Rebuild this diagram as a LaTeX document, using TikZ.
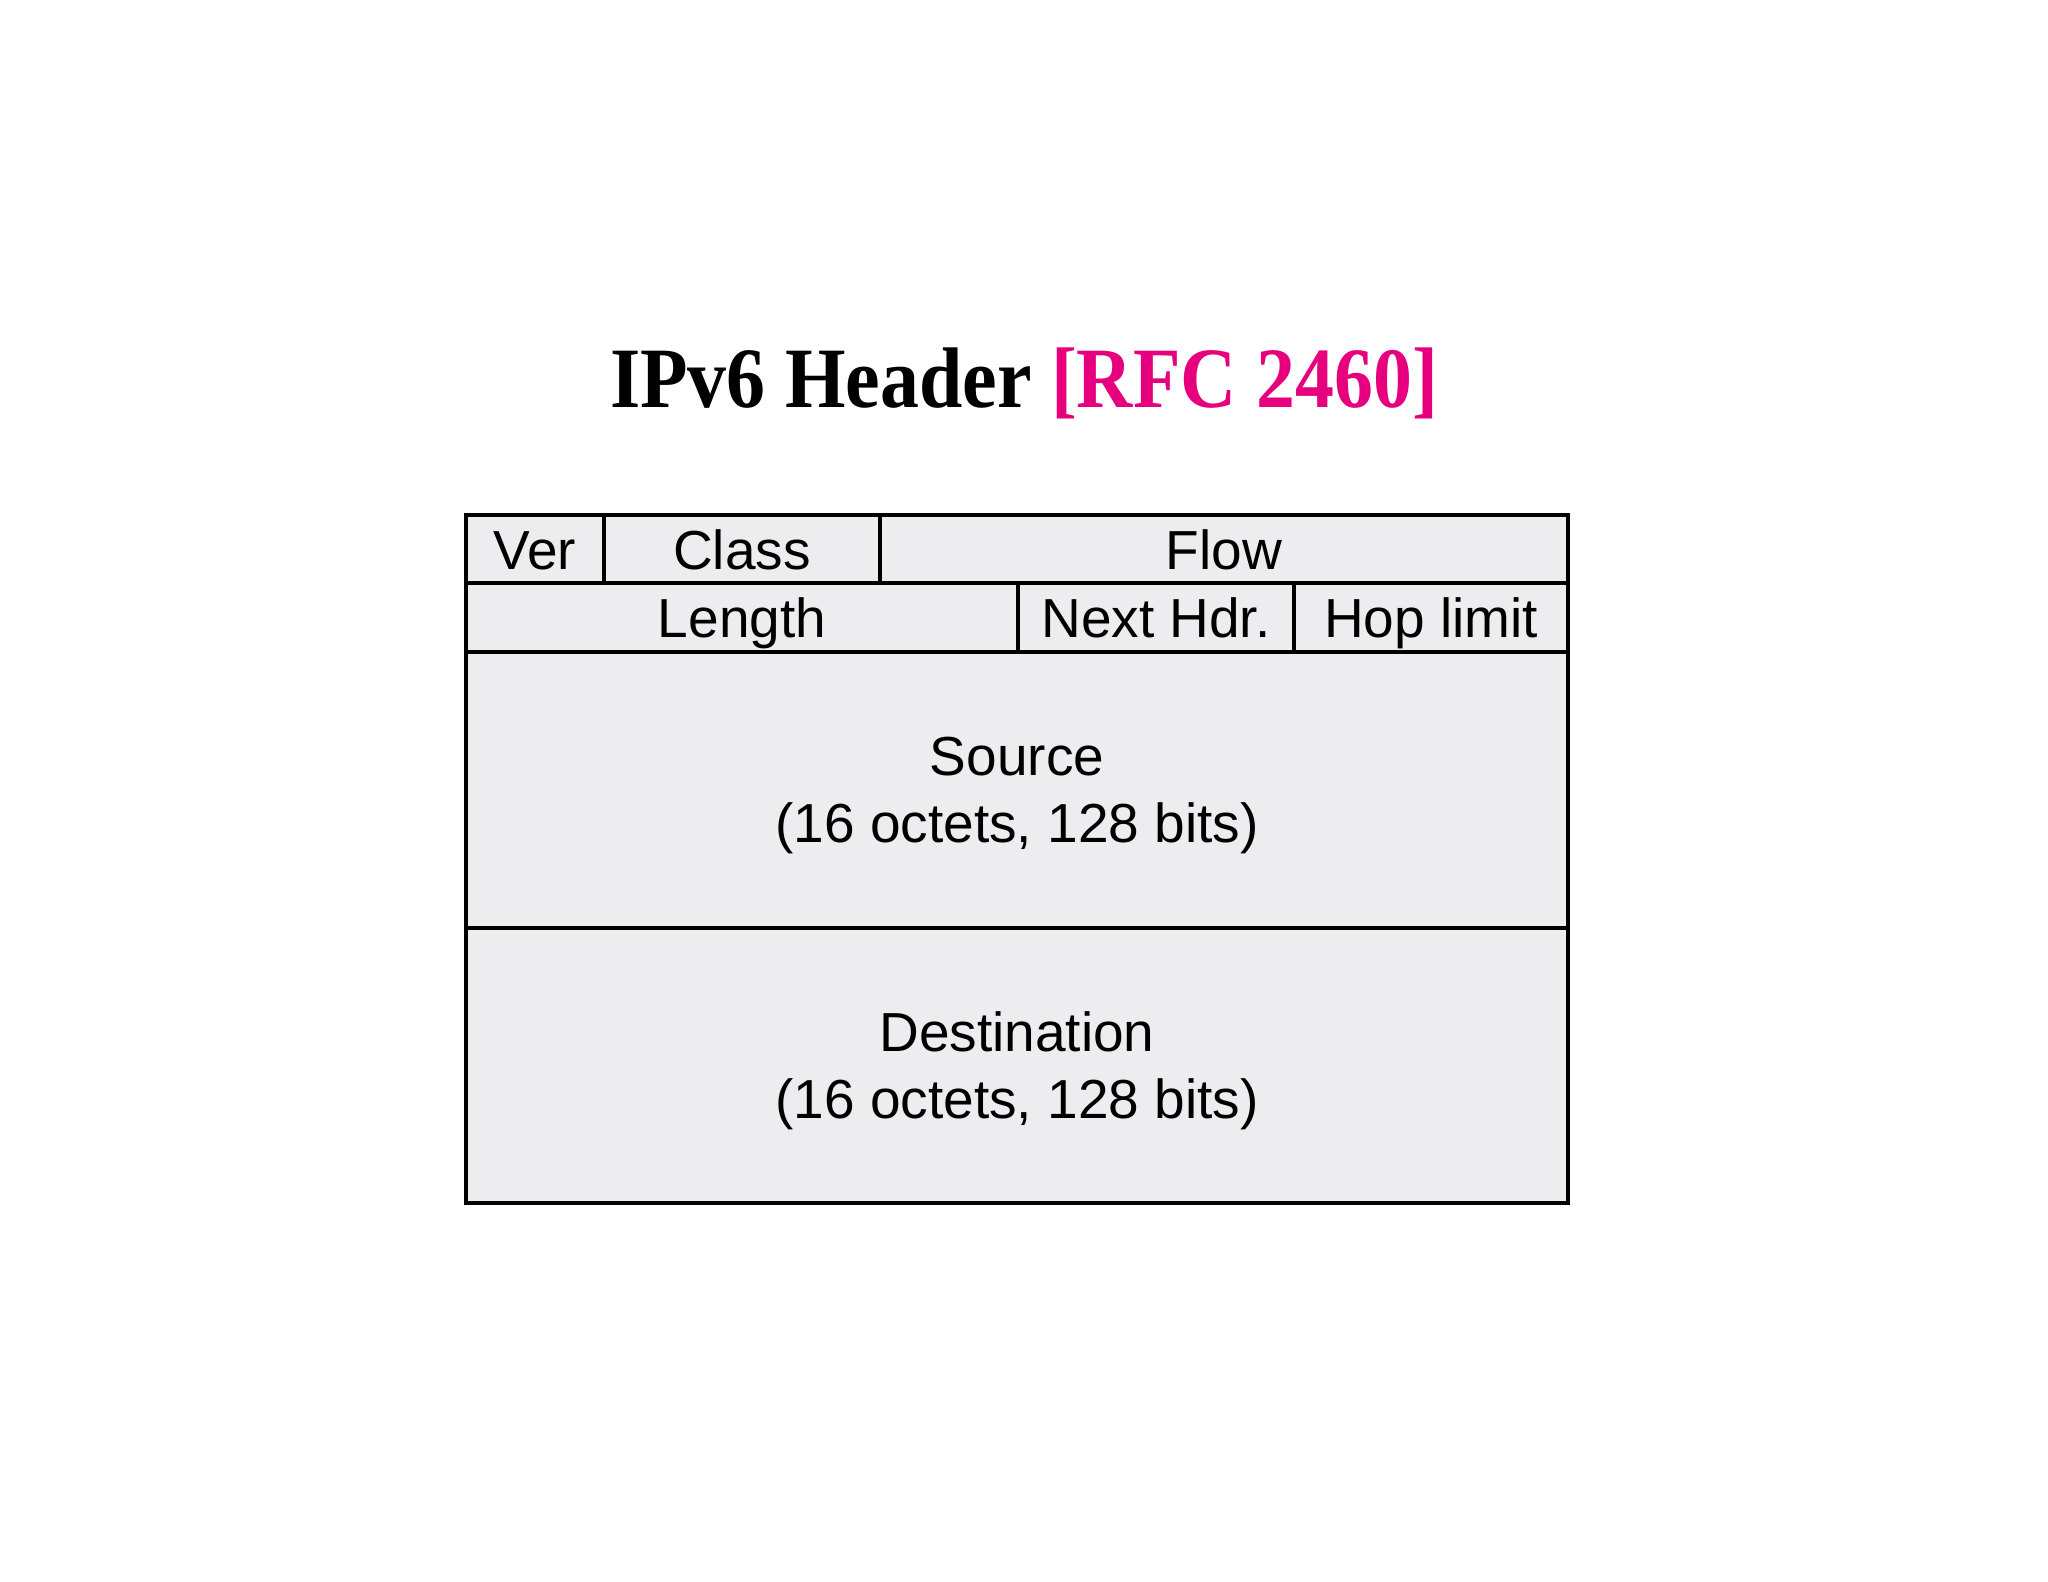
\documentclass[tikz,border=0pt]{standalone}
\usepackage{fontspec}
\setmainfont{Liberation Serif}
\newfontfamily\cellfont{Liberation Sans}
\definecolor{cellgray}{RGB}{237,236,238}
\definecolor{rfcpink}{RGB}{230,0,126}
\newcommand{\addrtext}[1]{\raisebox{-6pt}[\height][\depth]{\begin{tabular}{@{}c@{}}#1\\(16 octets, 128 bits)\end{tabular}}}
\tikzset{
  cell/.style={draw=black, line width=4pt, fill=cellgray, inner sep=0pt,
    font=\cellfont\fontsize{55}{67}\selectfont, text height=40pt, text depth=0pt, align=center},
  addrcell/.style={draw=black, line width=4pt, fill=cellgray, inner sep=0pt,
    font=\cellfont\fontsize{55}{67}\selectfont},
  titletext/.style={inner sep=0pt, anchor=base, font=\bfseries\fontsize{86}{90}\selectfont}
}
\begin{document}
\begin{tikzpicture}[x=1pt,y=-1pt]
\useasboundingbox[fill=white] (0,0) rectangle (2048,1582);
\node[titletext] (title) at (1024,407) {\scalebox{0.905}[1]{IPv6 Header \textcolor{rfcpink}{[RFC 2460]}}};
% row 1
\node[cell, minimum width=138pt, minimum height=68pt] (ver) at (535,549) {Ver};
\node[cell, minimum width=276pt, minimum height=68pt] (class) at (742,549) {Class};
\node[cell, minimum width=688pt, minimum height=68pt] (flow) at (1224,549) {Flow};
% row 2
\node[cell, minimum width=552pt, minimum height=69pt] (length) at (742,617.5) {Length};
\node[cell, minimum width=276pt, minimum height=69pt] (next) at (1156,617.5) {Next Hdr.};
\node[cell, minimum width=274pt, minimum height=69pt] (hop) at (1431,617.5) {Hop limit};
% addresses
\node[addrcell, minimum width=1102pt, minimum height=276pt] (src) at (1017,790) {\addrtext{Source}};
\node[addrcell, minimum width=1102pt, minimum height=275pt] (dst) at (1017,1065.5) {\addrtext{Destination}};
\end{tikzpicture}
\end{document}
